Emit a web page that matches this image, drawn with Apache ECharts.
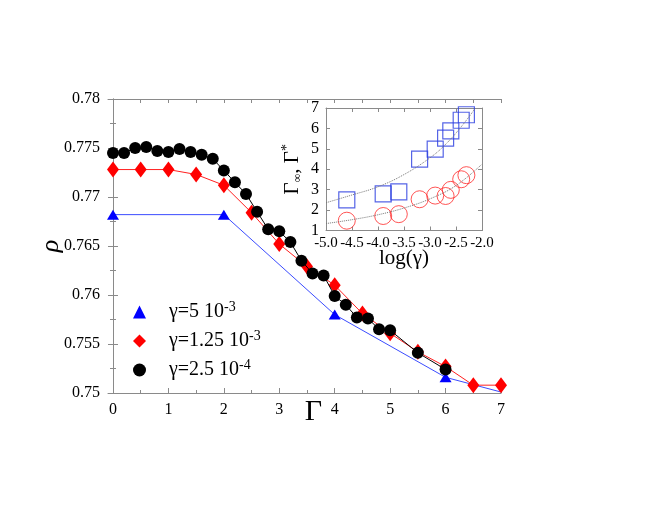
<!DOCTYPE html>
<html>
<head>
<meta charset="utf-8">
<script src="https://cdn.jsdelivr.net/npm/echarts@6/dist/echarts.min.js"></script>
<style>
  html, body { margin: 0; padding: 0; background: #fff; }
  #chart { width: 654px; height: 505px; }
</style>
</head>
<body>
<div id="chart"></div>
<script>
  // main panel: rho vs Gamma for three gamma values
  const seriesNames = ['γ=5 10^-3', 'γ=1.25 10^-3', 'γ=2.5 10^-4'];

  const blueX = [0, 2, 4, 6, 7];
  const blueY = [0.7682, 0.7682, 0.7580, 0.7516, 0.7501];

  const redX = [0, 0.5, 1, 1.5, 2, 2.5, 3, 3.5, 4, 4.5, 5, 5.5, 6, 6.5, 7];
  const redY = [0.7728, 0.7728, 0.7728, 0.7723, 0.7712, 0.7684, 0.7652, 0.7629,
    0.7610, 0.7581, 0.7561, 0.7542, 0.7527, 0.7508, 0.7508];

  const blackX = [0, 0.2, 0.4, 0.6, 0.8, 1, 1.2, 1.4, 1.6, 1.8, 2, 2.2, 2.4, 2.6,
    2.8, 3, 3.2, 3.4, 3.6, 3.8, 4, 4.2, 4.4, 4.6, 4.8, 5, 5.5, 6];
  const blackY = [0.7745, 0.7745, 0.7750, 0.7751, 0.7747, 0.7746, 0.7749, 0.7746,
    0.7743, 0.7739, 0.7727, 0.7715, 0.7703, 0.7685, 0.7667, 0.7665, 0.7654, 0.7635,
    0.7622, 0.7620, 0.7599, 0.7590, 0.7577, 0.7576, 0.7565, 0.7564, 0.7541, 0.7524];

  const mainXTicks = [0, 1, 2, 3, 4, 5, 6, 7];
  const mainXMinor = [0.5, 1.5, 2.5, 3.5, 4.5, 5.5, 6.5];
  const mainXTopTicks = [0, 0.5, 1, 1.5, 2, 2.5, 3, 3.5, 4, 4.5, 5, 5.5, 6, 6.5, 7];

  // inset: Gamma* (squares) and Gamma_inf (circles) vs log(gamma)
  const insetLogG = [-4.6, -3.9, -3.6, -3.2, -2.9, -2.7, -2.6, -2.4, -2.3];
  const gammaStar = [2.50, 2.79, 2.89, 4.50, 4.99, 5.52, 5.88, 6.40, 6.67];
  const gammaInf = [1.48, 1.71, 1.80, 2.53, 2.71, 2.69, 2.99, 3.51, 3.71];

  const fitUpperX = [-5.0, -4.5, -4.0, -3.5, -3.0, -2.7, -2.4, -2.14];
  const fitUpperY = [2.36, 2.74, 3.14, 3.74, 4.56, 5.22, 6.08, 6.95];
  const fitLowerX = [-5.0, -4.5, -4.0, -3.5, -3.0, -2.5, -2.0];
  const fitLowerY = [1.34, 1.53, 1.77, 2.10, 2.55, 3.20, 4.25];

  const font = 'Liberation Serif';
  const frameColor = '#8a8a8a';

  function zip(xs, ys) {
    return xs.map((x, i) => [x, ys[i]]);
  }

  const chart = echarts.init(document.getElementById('chart'));

  const tickLabel = { fontFamily: font, fontSize: 16, color: '#000' };

  chart.setOption({
    animation: false,
    backgroundColor: '#fff',
    textStyle: { fontFamily: font },
    grid: [
      { left: 108, top: 99, width: 393, height: 294 },
      { left: 326, top: 108, width: 156, height: 122.5 }
    ],
    legend: {
      orient: 'vertical',
      left: 128,
      top: 295,
      itemWidth: 13,
      itemHeight: 13,
      itemGap: 5,
      data: [
        { name: seriesNames[0], icon: 'triangle' },
        { name: seriesNames[1], icon: 'diamond' },
        { name: seriesNames[2], icon: 'circle' }
      ],
      formatter: n => {
        const p = n.split('^');
        return '{b|' + p[0] + '}{sup|' + p[1] + '}';
      },
      textStyle: {
        fontFamily: font,
        fontSize: 20,
        lineHeight: 24,
        color: '#000',
        padding: [0, 0, 0, 18],
        rich: {
          b: { fontFamily: font, fontSize: 20, lineHeight: 24, color: '#000' },
          sup: { fontFamily: font, fontSize: 14, lineHeight: 14, verticalAlign: 'top', color: '#000' }
        }
      }
    },
    xAxis: [
      {
        gridIndex: 0, type: 'value', min: -0.09, max: 7, position: 'bottom',
        name: 'Γ', nameLocation: 'middle', nameGap: 4, nameMoveOverlap: false,
        nameTextStyle: { fontFamily: font, fontSize: 30, color: '#000', padding: [0, 0, 0, 18] },
        axisLine: { lineStyle: { color: frameColor } },
        axisTick: { inside: true, length: 5, customValues: mainXTicks, lineStyle: { color: frameColor } },
        axisLabel: Object.assign({ customValues: mainXTicks, margin: 9 }, tickLabel),
        splitLine: { show: false }
      },
      {
        gridIndex: 0, type: 'value', min: -0.09, max: 7, position: 'bottom',
        axisLine: { show: false },
        axisTick: { inside: true, length: 3, customValues: mainXMinor, lineStyle: { color: frameColor } },
        axisLabel: { show: false },
        splitLine: { show: false }
      },
      {
        gridIndex: 0, type: 'value', min: -0.09, max: 7, position: 'top',
        axisLine: { lineStyle: { color: frameColor } },
        axisTick: { inside: true, length: 4, customValues: mainXTopTicks, lineStyle: { color: frameColor } },
        axisLabel: { show: false },
        splitLine: { show: false }
      },
      {
        gridIndex: 1, type: 'value', min: -5, max: -2, interval: 0.5, position: 'bottom',
        name: 'log(γ)', nameLocation: 'middle', nameGap: 17, nameMoveOverlap: false,
        nameTextStyle: { fontFamily: font, fontSize: 21, color: '#000' },
        axisLine: { lineStyle: { color: frameColor } },
        axisTick: { inside: true, length: 4, lineStyle: { color: frameColor } },
        axisLabel: { fontFamily: font, fontSize: 15, color: '#000', margin: 5, formatter: v => v.toFixed(1) },
        splitLine: { show: false }
      },
      {
        gridIndex: 1, type: 'value', min: -5, max: -2, interval: 0.5, position: 'top',
        axisLine: { lineStyle: { color: frameColor } },
        axisTick: { inside: true, length: 4, lineStyle: { color: frameColor } },
        axisLabel: { show: false },
        splitLine: { show: false }
      }
    ],
    yAxis: [
      {
        gridIndex: 0, type: 'value', min: 0.75, max: 0.78, interval: 0.005, position: 'left',
        name: 'ρ', nameLocation: 'middle', nameGap: 44, nameMoveOverlap: false,
        nameTextStyle: { fontFamily: font, fontSize: 26, fontStyle: 'italic', color: '#000' },
        axisLine: { show: true, lineStyle: { color: frameColor } },
        axisTick: { inside: true, length: 5, lineStyle: { color: frameColor } },
        minorTick: { show: true, splitNumber: 2, length: 3, lineStyle: { color: frameColor } },
        axisLabel: Object.assign({ margin: 8, formatter: v => String(parseFloat(v.toFixed(3))) }, tickLabel),
        splitLine: { show: false }
      },
      {
        gridIndex: 0, type: 'value', min: 0.75, max: 0.78, interval: 0.005, position: 'right',
        axisLine: { show: true, lineStyle: { color: frameColor } },
        axisTick: { inside: true, length: 5, lineStyle: { color: frameColor } },
        minorTick: { show: true, splitNumber: 2, length: 3, lineStyle: { color: frameColor } },
        axisLabel: { show: false },
        splitLine: { show: false }
      },
      {
        gridIndex: 1, type: 'value', min: 1, max: 7, interval: 1, position: 'left',
        name: '{t|Γ}{sub|∞}{t|, Γ}{sup|*}', nameLocation: 'middle', nameGap: 22, nameMoveOverlap: false,
        nameTextStyle: {
          fontFamily: font, fontSize: 21, color: '#000',
          rich: {
            t: { fontFamily: font, fontSize: 21, lineHeight: 24 },
            sub: { fontFamily: font, fontSize: 12, lineHeight: 12, verticalAlign: 'bottom' },
            sup: { fontFamily: font, fontSize: 14, lineHeight: 14, verticalAlign: 'top' }
          }
        },
        axisLine: { show: true, lineStyle: { color: frameColor } },
        axisTick: { inside: true, length: 4, lineStyle: { color: frameColor } },
        axisLabel: { fontFamily: font, fontSize: 16, color: '#000', margin: 7 },
        splitLine: { show: false }
      },
      {
        gridIndex: 1, type: 'value', min: 1, max: 7, interval: 1, position: 'right',
        axisLine: { show: true, lineStyle: { color: frameColor } },
        axisTick: { inside: true, length: 4, lineStyle: { color: frameColor } },
        axisLabel: { show: false },
        splitLine: { show: false }
      }
    ],
    series: [
      {
        name: seriesNames[0], type: 'line', xAxisIndex: 0, yAxisIndex: 0,
        data: zip(blueX, blueY).map((d, i) => i === blueX.length - 1 ? { value: d, symbol: 'none' } : d),
        symbol: 'triangle', symbolSize: [12, 10],
        itemStyle: { color: '#0000ff' },
        lineStyle: { color: '#3b4cff', width: 1 },
        z: 3
      },
      {
        name: seriesNames[1], type: 'line', xAxisIndex: 0, yAxisIndex: 0,
        data: zip(redX, redY),
        symbol: 'diamond', symbolSize: [12, 16],
        itemStyle: { color: '#ff0000' },
        lineStyle: { color: '#ff2020', width: 1 },
        z: 4
      },
      {
        name: seriesNames[2], type: 'line', xAxisIndex: 0, yAxisIndex: 0,
        data: zip(blackX, blackY),
        symbol: 'circle', symbolSize: 12,
        itemStyle: { color: '#000' },
        lineStyle: { color: '#000', width: 1 },
        z: 5
      },
      {
        name: 'fit Γ*', type: 'line', xAxisIndex: 3, yAxisIndex: 2,
        data: zip(fitUpperX, fitUpperY), smooth: 0.4, showSymbol: false, symbol: 'none',
        lineStyle: { color: '#777', width: 1, type: 'dotted' }
      },
      {
        name: 'fit Γ∞', type: 'line', xAxisIndex: 3, yAxisIndex: 2,
        data: zip(fitLowerX, fitLowerY), smooth: 0.4, showSymbol: false, symbol: 'none',
        lineStyle: { color: '#777', width: 1, type: 'dotted' }
      },
      {
        name: 'Γ*', type: 'scatter', xAxisIndex: 3, yAxisIndex: 2,
        data: zip(insetLogG, gammaStar), symbol: 'rect', symbolSize: 16,
        itemStyle: { color: 'rgba(0,0,0,0)', borderColor: '#2b3de0', borderWidth: 1.2 }
      },
      {
        name: 'Γ∞', type: 'scatter', xAxisIndex: 3, yAxisIndex: 2,
        data: zip(insetLogG, gammaInf), symbol: 'circle', symbolSize: 17,
        itemStyle: { color: 'rgba(0,0,0,0)', borderColor: '#ff2a2a', borderWidth: 1 }
      }
    ]
  });
</script>
</body>
</html>
